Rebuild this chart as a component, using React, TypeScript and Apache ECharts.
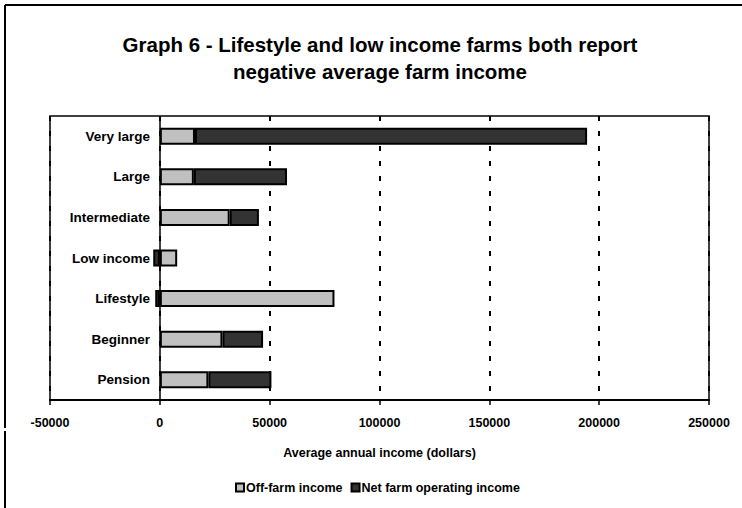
import React, { useEffect, useRef } from "react";
import * as echarts from "echarts";

const categories = ["Pension", "Beginner", "Lifestyle", "Low income", "Intermediate", "Large", "Very large"];
const offFarmIncome = [22100, 28500, 79500, 7900, 31800, 15500, 16000];
const netFarmIncome = [28700, 18500, -2100, -3000, 13300, 42400, 178500];
const seriesNames = ["Off-farm income", "Net farm operating income"];
const titleText = "Graph 6 - Lifestyle and low income farms both report\nnegative average farm income";
const xAxisName = "Average annual income (dollars)";

const FONT = "'Liberation Sans', Arial, Helvetica, sans-serif";

export default function App() {
  const ref = useRef<HTMLDivElement>(null);
  useEffect(() => {
    if (!ref.current) return;
    const chart = echarts.init(ref.current, null, { renderer: "svg" });
    chart.setOption({
      animation: false,
      backgroundColor: "#ffffff",
      textStyle: { fontFamily: FONT },
      graphic: [
        { type: "line", shape: { x1: 5, y1: 5, x2: 742, y2: 5 }, style: { stroke: "#000", lineWidth: 2 } },
        { type: "line", shape: { x1: 5, y1: 5, x2: 5, y2: 428 }, style: { stroke: "#000", lineWidth: 2 } },
        { type: "line", shape: { x1: 5, y1: 431, x2: 5, y2: 508 }, style: { stroke: "#000", lineWidth: 2 } },
        {
          type: "text",
          x: 380,
          y: 31,
          style: {
            text: titleText,
            fontFamily: FONT,
            fontSize: 20.5,
            fontWeight: "bold",
            lineHeight: 27,
            fill: "#000",
            align: "center",
            verticalAlign: "top",
          },
        },
      ],
      grid: {
        left: 50,
        right: 33,
        top: 116,
        bottom: 108,
        show: true,
        borderColor: "#000",
        borderWidth: 1.5,
        backgroundColor: "transparent",
        containLabel: false,
        outerBoundsMode: "none",
      },
      legend: {
        data: seriesNames,
        bottom: 9,
        left: 230,
        itemWidth: 8,
        itemHeight: 8,
        itemGap: 8,
        icon: "rect",
        textStyle: { fontFamily: FONT, fontSize: 12.5, fontWeight: "bold", color: "#000", padding: [0, 0, 0, -3] },
      },
      xAxis: {
        type: "value",
        min: -50000,
        max: 250000,
        interval: 50000,
        name: xAxisName,
        nameLocation: "middle",
        nameGap: 46,
        nameTextStyle: { fontFamily: FONT, fontSize: 12.5, fontWeight: "bold", color: "#000" },
        axisLine: { show: true, onZero: false, lineStyle: { color: "#000", width: 2 } },
        axisTick: { show: true, length: 5, lineStyle: { color: "#000", width: 1.5 } },
        axisLabel: {
          fontFamily: FONT,
          fontSize: 12.5,
          fontWeight: "bold",
          color: "#000",
          margin: 16,
          formatter: (v: number) => String(v),
        },
        splitLine: { show: true, lineStyle: { color: "#000", width: 2, type: [5, 10] } },
      },
      yAxis: {
        type: "category",
        data: categories,
        axisLine: { show: false, onZero: false },
        axisTick: { show: false },
        axisLabel: {
          fontFamily: FONT,
          fontSize: 13.5,
          fontWeight: "bold",
          color: "#000",
          margin: -100,
          align: "right",
        },
        splitLine: { show: false },
      },
      series: [
        {
          name: seriesNames[0],
          type: "bar",
          stack: "total",
          data: offFarmIncome,
          barWidth: 17,
          itemStyle: { color: "#c0c0c0", borderColor: "#000", borderWidth: 2 },
          markLine: {
            silent: true,
            symbol: "none",
            label: { show: false },
            lineStyle: { color: "#000", width: 1.5, type: "solid" },
            data: [{ xAxis: 0 }],
          },
        },
        {
          name: seriesNames[1],
          type: "bar",
          stack: "total",
          data: netFarmIncome,
          barWidth: 17,
          itemStyle: { color: "#333333", borderColor: "#000", borderWidth: 2 },
        },
      ],
    });
    return () => chart.dispose();
  }, []);
  return <div ref={ref} style={{ position: "fixed", left: 0, top: 0, width: 742, height: 508 }} />;
}
